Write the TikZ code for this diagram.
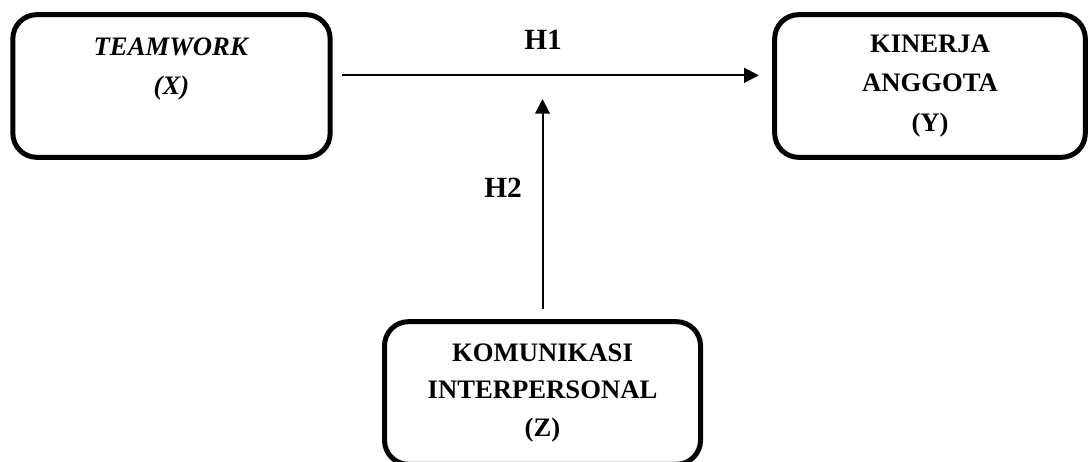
\documentclass[tikz,border=0pt]{standalone}
\usepackage{fontspec}
\setmainfont{Liberation Serif}
\usepackage{tikz}
\usetikzlibrary{arrows.meta,positioning,calc}

\begin{document}
\begin{tikzpicture}[x=0.75pt,y=-0.75pt]
\tikzset{box/.style={draw,line width=3.75pt,rounded corners=18pt,minimum width=238pt,minimum height=107pt,align=center,inner sep=4pt,font=\bfseries\fontsize{20}{29.5}\selectfont},a/.style={-{Triangle[length=11pt,width=11pt]},line width=1.5pt},h/.style={font=\bfseries\fontsize{22}{26}\selectfont}}
\useasboundingbox (0,0) rectangle (1092,461);
\node[box] (x) at (171.5,86) {\textit{TEAMWORK}\\\textit{(X)}\\~};
\node[box,minimum width=233pt] (y) at (930,86) {KINERJA\\ANGGOTA\\(Y)};
\node[box,minimum width=237pt,font=\bfseries\fontsize{20}{28}\selectfont] (z) at (542.5,393) {KOMUNIKASI\\INTERPERSONAL\\(Z)};
\coordinate (m) at (542.5,99);
\draw[a,shorten <=7pt,shorten >=10pt] ([yshift=8pt]x.east) -- ([yshift=8pt]y.west);
\draw[a,shorten <=7.5pt] (z.north) -- (m);
\node[h] (h1) at (543,40) {H1};
\node[h] (h2) at (503,188) {H2};
\end{tikzpicture}
\end{document}
